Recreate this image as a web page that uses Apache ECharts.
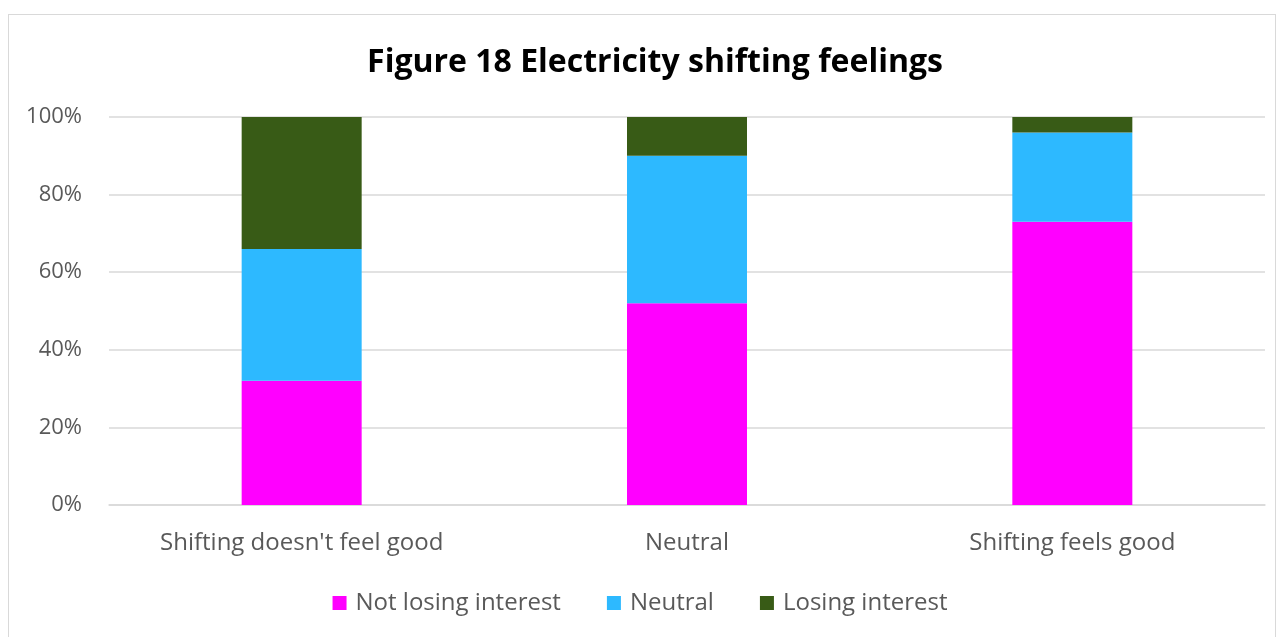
<!DOCTYPE html>
<html><head><meta charset="utf-8">
<script src="https://cdn.jsdelivr.net/npm/echarts@6/dist/echarts.min.js"></script>
<style>
html,body{margin:0;padding:0;background:#fff;}
#frame{position:absolute;left:8px;top:14px;width:1268px;height:640px;border:1.5px solid #d9d9d9;box-sizing:border-box;}
#c{position:absolute;left:0;top:0;width:1280px;height:637px;}
</style></head>
<body>
<div id="frame"></div>
<div id="c"></div>
<script>
const categories = ["Shifting doesn't feel good", "Neutral", "Shifting feels good"];
const notLosing = [32, 52, 73];
const neutral = [34, 38, 23];
const losing = [34, 10, 4];
const yTicks = [0, 20, 40, 60, 80, 100];

const font = "'Open Sans', 'Noto Sans', sans-serif";
const chart = echarts.init(document.getElementById('c'));
chart.setOption({
  animation: false,
  title: {
    text: 'Figure 18 Electricity shifting feelings',
    left: 650, top: 42, textAlign: 'center',
    textStyle: {fontFamily: font, fontWeight: 'bold', fontSize: 32, color: '#000'}
  },
  legend: {
    bottom: 17, left: 'center',
    itemWidth: 14, itemHeight: 14, itemGap: 46,
    icon: 'rect',
    textStyle: {fontFamily: font, fontSize: 24, color: '#595959', padding: [0, 0, 0, 4]},
    data: ['Not losing interest', 'Neutral', 'Losing interest']
  },
  grid: {left: 109, right: 15, top: 117, bottom: 132},
  xAxis: {
    type: 'category', data: categories,
    axisLine: {lineStyle: {color: '#d9d9d9', width: 1.5}},
    axisTick: {show: false},
    axisLabel: {fontFamily: font, fontSize: 24, color: '#595959', margin: 26}
  },
  yAxis: {
    type: 'value', min: yTicks[0], max: yTicks[yTicks.length-1], interval: 20,
    axisLine: {show: false}, axisTick: {show: false},
    splitLine: {lineStyle: {color: '#d9d9d9', width: 1.5}},
    axisLabel: {fontFamily: font, fontSize: 22, color: '#595959', margin: 27, formatter: '{value}%'}
  },
  series: [
    {name: 'Not losing interest', type: 'bar', stack: 's', data: notLosing, barWidth: 120, itemStyle: {color: '#FF00FF'}},
    {name: 'Neutral', type: 'bar', stack: 's', data: neutral, barWidth: 120, itemStyle: {color: '#2DB9FF'}},
    {name: 'Losing interest', type: 'bar', stack: 's', data: losing, barWidth: 120, itemStyle: {color: '#385B16'}}
  ]
});
</script>
</body></html>
